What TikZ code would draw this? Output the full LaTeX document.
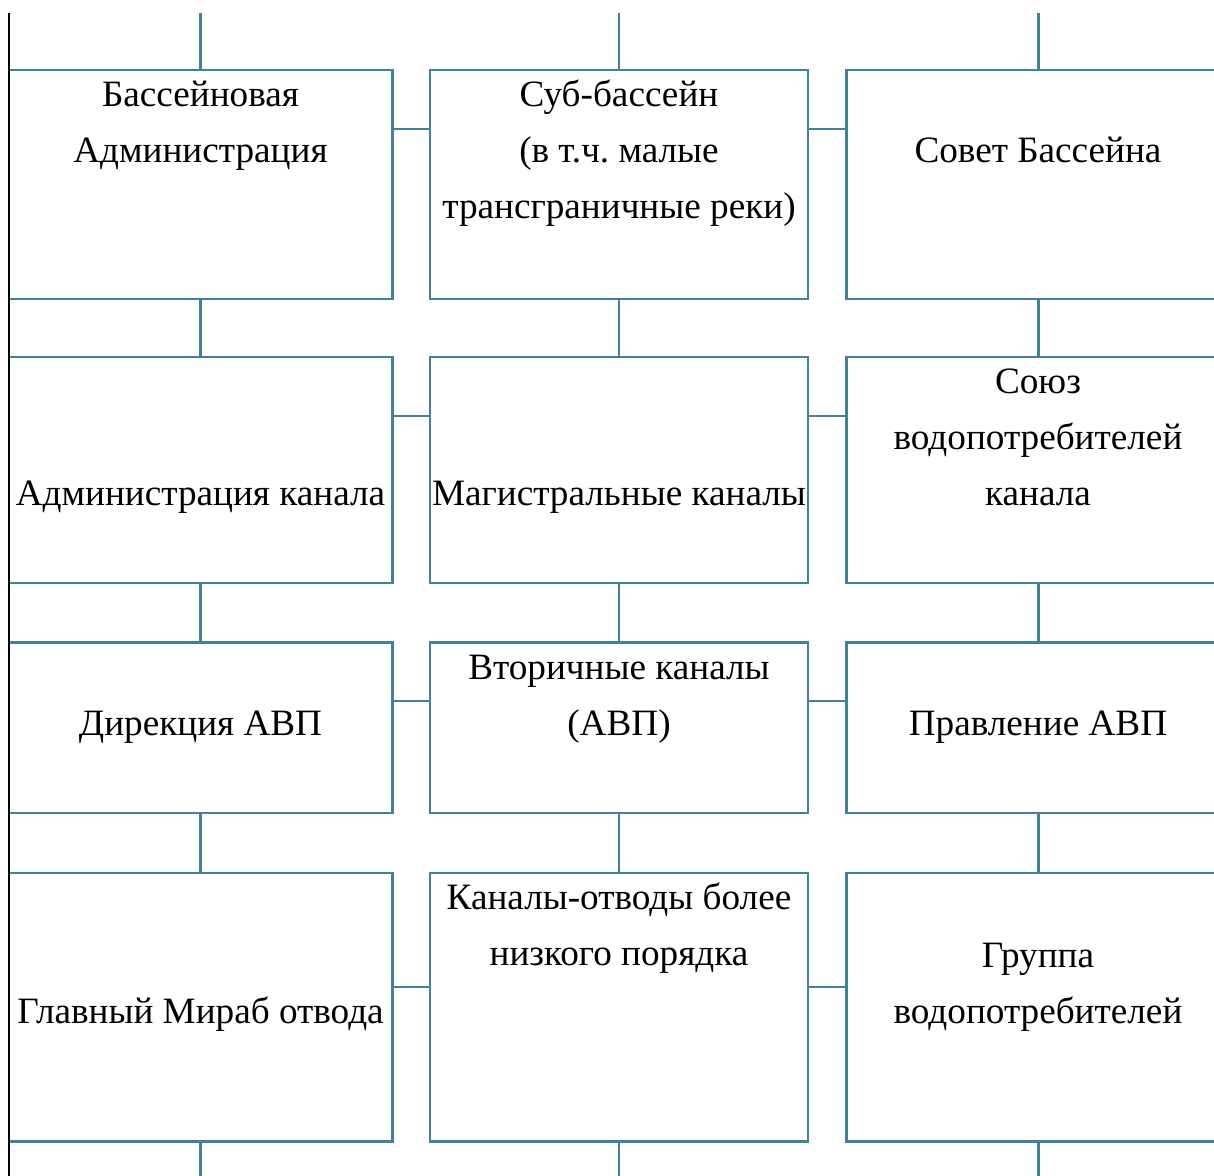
\documentclass[tikz,border=0pt]{standalone}
\usepackage{fontspec}
\setmainfont{Liberation Serif}
\definecolor{boxline}{RGB}{66,128,153}
\frenchspacing

\begin{document}
\begin{tikzpicture}
  [x=0.5pt,y=-0.5pt,
   box/.style={rectangle,draw=boxline,line width=1.4pt,inner sep=0pt,outer sep=0pt},
   colL/.style={minimum width=191.75pt},
   colM/.style={minimum width=189pt},
   rowA/.style={minimum height=114.5pt},
   rowB/.style={minimum height=113pt},
   rowC/.style={minimum height=85.25pt},
   rowD/.style={minimum height=134.25pt},
   txt/.style={anchor=base,align=center,inner sep=0pt,font=\fontsize{18.6}{28}\selectfont},
   link/.style={draw=boxline,line width=1.4pt}]
  \useasboundingbox (0,0) rectangle (1214,1176);
  \clip (0,0) rectangle (1214,1176);

  % boxes
  \node[box,colL,rowA] (a1) at (200.75,184.5) {};
  \node[box,colM,rowA] (b1) at (619,184.5) {};
  \node[box,colL,rowA] (c1) at (1038.25,184.5) {};
  \node[box,colL,rowB] (a2) at (200.75,470) {};
  \node[box,colM,rowB] (b2) at (619,470) {};
  \node[box,colL,rowB] (c2) at (1038.25,470) {};
  \node[box,colL,rowC] (a3) at (200.75,727.75) {};
  \node[box,colM,rowC] (b3) at (619,727.75) {};
  \node[box,colL,rowC] (c3) at (1038.25,727.75) {};
  \node[box,colL,rowD] (a4) at (200.75,1007.25) {};
  \node[box,colM,rowD] (b4) at (619,1007.25) {};
  \node[box,colL,rowD] (c4) at (1038.25,1007.25) {};

  % texts (base = last line)
  \node[txt] (a1t) at (200.5,163) {Бассейновая\\Администрация};
  \node[txt] (b1t) at (619,219) {Суб-бассейн\\(в т.ч. малые\\трансграничные реки)};
  \node[txt] (c1t) at (1038,163) {Совет Бассейна};
  \node[txt] (a2t) at (200.5,505) {Администрация канала};
  \node[txt] (b2t) at (619,505) {Магистральные каналы};
  \node[txt] (c2t) at (1038,505) {Союз\\водопотребителей\\канала};
  \node[txt] (a3t) at (200.5,735) {Дирекция АВП};
  \node[txt] (b3t) at (619,735) {Вторичные каналы\\(АВП)};
  \node[txt] (c3t) at (1038,735) {Правление АВП};
  \node[txt] (a4t) at (200.5,1023) {Главный Мираб отвода};
  \node[txt] (b4t) at (619,965) {Каналы-отводы более\\низкого порядка};
  \node[txt] (c4t) at (1038,1023) {Группа\\водопотребителей};

  \coordinate (top) at (0,13);
  \coordinate (bot) at (0,1176);

  % vertical links
  \foreach \c in {a,b,c} {
    \draw[link] (\c1.north |- top) -- (\c1.north);
    \draw[link] (\c1.south) -- (\c2.north);
    \draw[link] (\c2.south) -- (\c3.north);
    \draw[link] (\c3.south) -- (\c4.north);
    \draw[link] (\c4.south) -- (\c4.south |- bot);
  }

  % horizontal links
  \foreach \r/\y in {1/129,2/416,3/701,4/987} {
    \coordinate (h\r) at (0,\y);
    \draw[link] (a\r.east |- h\r) -- (b\r.west |- h\r);
    \draw[link] (b\r.east |- h\r) -- (c\r.west |- h\r);
  }

  \draw[line width=0.75pt] (a1.west |- top) -- (a4.west |- bot);
\end{tikzpicture}
\end{document}
